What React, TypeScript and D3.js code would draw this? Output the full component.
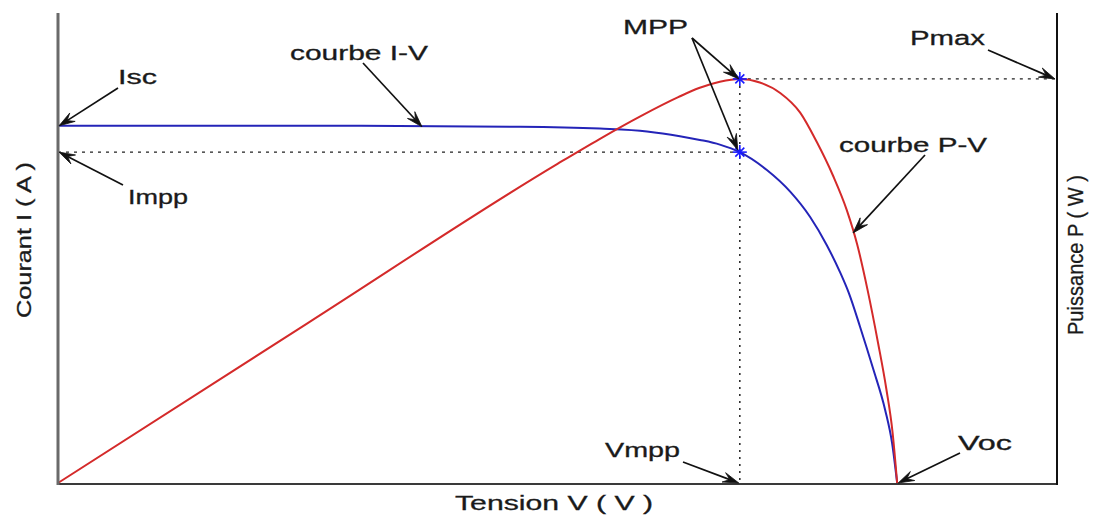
import React from "react";
import * as d3 from "d3";

// ---- data ----
const ivVoltage = [0, 5.8, 11.1, 13.02, 14.15, 14.94, 15.42, 15.9, 16.38, 17.03, 17.59, 18.07, 18.47, 18.79, 19.0, 19.27, 19.58, 19.87, 20.04, 20.16];
const ivCurrent = [3.8, 3.8, 3.79, 3.77, 3.74, 3.69, 3.65, 3.6, 3.52, 3.33, 3.1, 2.83, 2.53, 2.24, 2.02, 1.66, 1.22, 0.78, 0.42, 0];

const pvVoltage = [0, 6, 12, 13.0, 14.0, 14.9, 15.4, 15.9, 16.38, 16.86, 17.35, 17.83, 18.23, 18.62, 18.95, 19.2, 19.45, 19.7, 19.9, 20.05, 20.16];
const pvPower = [0, 22.8, 45.5, 49.0, 52.3, 55.0, 56.3, 57.2, 57.6, 57.1, 55.6, 52.8, 48.6, 43.8, 38.9, 34.0, 27.5, 20.0, 13.4, 7.2, 0];

const Isc = 3.8;
const Impp = 3.52;
const Vmpp = 16.38;
const Pmax = 57.6;
const Voc = 20.16;

const voltageDomain = [0, 24];
const currentDomain = [0, 5];
const powerDomain = [0, 67];

const labels = {
  xTitle: "Tension V ( V )",
  yLeftTitle: "Courant I ( A )",
  yRightTitle: "Puissance P ( W )",
};

export default function App() {
  const W = 1101, H = 516;
  const x = d3.scaleLinear().domain(voltageDomain).range([58, 1057]);
  const yI = d3.scaleLinear().domain(currentDomain).range([483, 13]);
  const yP = d3.scaleLinear().domain(powerDomain).range([483, 13]);

  const ivPts: [number, number][] = ivVoltage.map((v, i) => [v, ivCurrent[i]]);
  const pvPts: [number, number][] = pvVoltage.map((v, i) => [v, pvPower[i]]);

  const ivLine = d3.line<[number, number]>().x(d => x(d[0])).y(d => yI(d[1])).curve(d3.curveMonotoneX);
  const pvLine = d3.line<[number, number]>().x(d => x(d[0])).y(d => yP(d[1])).curve(d3.curveMonotoneX);

  const x0 = x(0), xEnd = x(voltageDomain[1]), yBottom = yI(0), yTop = yI(currentDomain[1]);
  const xM = x(Vmpp), yImpp = yI(Impp), yPmax = yP(Pmax), yIsc = yI(Isc), xVoc = x(Voc);

  const arrow = (tx: number, ty: number, hx: number, hy: number, key: string) => {
    const dx = hx - tx, dy = hy - ty;
    const len = Math.hypot(dx, dy);
    const ux = dx / len, uy = dy / len;
    const nx = -uy, ny = ux;
    const L = 16, w = 10;
    const bx = hx - L * ux, by = hy - L * uy;
    const notchX = hx - 0.6 * L * ux, notchY = hy - 0.6 * L * uy;
    const head = `M${hx},${hy}L${bx + nx * w / 2},${by + ny * w / 2}L${notchX},${notchY}L${bx - nx * w / 2},${by - ny * w / 2}Z`;
    return (
      <g key={key}>
        <line x1={tx} y1={ty} x2={notchX} y2={notchY} stroke="#111" strokeWidth={1.7} />
        <path d={head} fill="#111" stroke="#111" strokeWidth={0.8} strokeLinejoin="miter" />
      </g>
    );
  };

  const star = (cx: number, cy: number, key: string) => (
    <g key={key} stroke="#1a1aff" strokeWidth={1.6}>
      <line x1={cx - 7} y1={cy} x2={cx + 7} y2={cy} />
      <line x1={cx} y1={cy - 7} x2={cx} y2={cy + 7} />
      <line x1={cx - 4.5} y1={cy - 4.5} x2={cx + 4.5} y2={cy + 4.5} />
      <line x1={cx - 4.5} y1={cy + 4.5} x2={cx + 4.5} y2={cy - 4.5} />
    </g>
  );

  const font = "'Liberation Sans', Arial, sans-serif";
  const txt = (s: string, px: number, py: number, len: number, key: string, size = 20) => (
    <text key={key} x={px} y={py} fontFamily={font} fontSize={size} fill="#1a1a1a" stroke="#1a1a1a" strokeWidth={0.3} textLength={len} lengthAdjust="spacingAndGlyphs">{s}</text>
  );

  return (
    <svg width={W} height={H} style={{ position: "absolute", left: 0, top: 0, background: "#fff" }}>
      <rect width={W} height={H} fill="#fff" />
      {/* dotted guides */}
      <line x1={x0} y1={yImpp} x2={xM} y2={yImpp} stroke="#222" strokeWidth={1.3} strokeDasharray="3,5" />
      <line x1={xM} y1={yPmax} x2={xEnd} y2={yPmax} stroke="#222" strokeWidth={1.3} strokeDasharray="3,5" />
      <line x1={xM} y1={yPmax} x2={xM} y2={yBottom} stroke="#222" strokeWidth={1.5} strokeDasharray="2,5" />

      {/* curves */}
      <path d={ivLine(ivPts) || ""} fill="none" stroke="#2424b8" strokeWidth={2} />
      <path d={pvLine(pvPts) || ""} fill="none" stroke="#d42a2a" strokeWidth={2} />

      {star(xM, yPmax, "s1")}
      {star(xM, yImpp, "s2")}

      {/* axes */}
      <line x1={x0} y1={yBottom + 1} x2={xEnd} y2={yBottom + 1} stroke="#3a3a3a" strokeWidth={2} />
      <line x1={x0} y1={yTop} x2={x0} y2={yBottom + 2} stroke="#6a6a6a" strokeWidth={3} />
      <line x1={xEnd} y1={yTop} x2={xEnd} y2={yBottom + 2} stroke="#111" strokeWidth={2} />

      {/* arrows */}
      {arrow(118, 88, x0 + 1, yIsc, "a1")}
      {arrow(123, 185, x0 + 1, yImpp, "a2")}
      {arrow(363, 63, 422, yIsc + 1, "a3")}
      {arrow(692, 38, xM - 1, yPmax, "a4")}
      {arrow(692, 38, xM - 2, yImpp - 2, "a5")}
      {arrow(988, 50, xEnd - 2, yPmax, "a6")}
      {arrow(925, 155, 853, 233, "a7")}
      {arrow(683, 462, xM - 1, yBottom, "a8")}
      {arrow(960, 453, xVoc + 1, yBottom, "a9")}

      {/* annotation labels */}
      {txt("Isc", 118, 84, 39, "t1")}
      {txt("Impp", 128, 204, 60, "t2")}
      {txt("courbe I-V", 290, 60, 138, "t3")}
      {txt("MPP", 623, 34, 65, "t4")}
      {txt("Pmax", 910, 45, 75, "t5")}
      {txt("courbe P-V", 839, 152, 148, "t6")}
      {txt("Vmpp", 605, 457, 75, "t7")}
      {txt("Voc", 958, 450, 54, "t8")}

      {/* axis titles */}
      {txt(labels.xTitle, 455, 510, 198, "xt", 21)}
      <text transform={`translate(31,318) rotate(-90)`} fontFamily={font} fontSize={20} fill="#1a1a1a" stroke="#1a1a1a" strokeWidth={0.3} textLength={156} lengthAdjust="spacingAndGlyphs">{labels.yLeftTitle}</text>
      <text transform={`translate(1083,335) rotate(-90)`} fontFamily={font} fontSize={22} fill="#1a1a1a" stroke="#1a1a1a" strokeWidth={0.3} textLength={160} lengthAdjust="spacingAndGlyphs">{labels.yRightTitle}</text>
    </svg>
  );
}
